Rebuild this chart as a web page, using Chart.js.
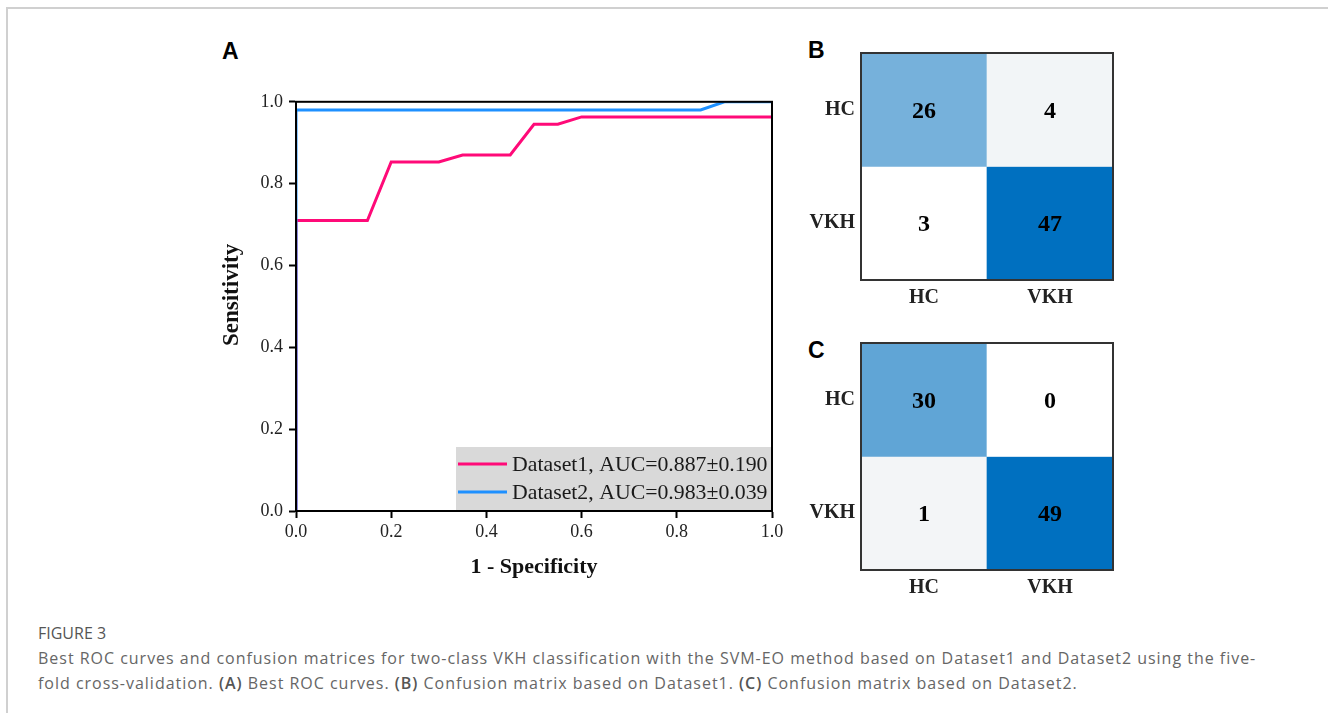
<!DOCTYPE html>
<html lang="en">
<head>
  <meta charset="UTF-8">
  <title>Figure 3</title>
  <script src="https://cdn.jsdelivr.net/npm/chart.js"></script>
  <style>
    body { margin: 0; background: #fff; width: 1328px; height: 713px; position: relative; overflow: hidden; }
    .frame { position: absolute; left: 6px; top: 7px; right: -10px; bottom: -10px; border-top: 2px solid #d0d0d0; border-left: 2px solid #d0d0d0; }
    .panel { position: absolute; font-family: "Liberation Sans", Arial, sans-serif; font-weight: bold; font-size: 23px; color: #000; }
    .box { position: absolute; }
    .caption { position: absolute; left: 38px; top: 621px; font-family: "Open Sans", sans-serif; color: #666; font-size: 16px; letter-spacing: 0.98px; line-height: 25px; white-space: nowrap; }
    .caption .fig { color: #555; letter-spacing: 0; }
    .caption b { font-weight: 600; color: #555; }
  </style>
</head>
<body>
  <div class="frame"></div>
  <div class="panel" style="left:222px; top:38px;">A</div>
  <div class="panel" style="left:808px; top:37px;">B</div>
  <div class="panel" style="left:808px; top:337px;">C</div>

  <div class="box" style="left:200px; top:85px; width:600px; height:505px;"><canvas id="roc"></canvas></div>
  <div class="box" style="left:800px; top:35px; width:330px; height:285px;"><canvas id="cmB"></canvas></div>
  <div class="box" style="left:800px; top:325px; width:330px; height:285px;"><canvas id="cmC"></canvas></div>

  <div class="caption">
    <div class="fig">FIGURE 3</div>
    <div>Best ROC curves and confusion matrices for two-class VKH classification with the SVM-EO method based on Dataset1 and Dataset2 using the five-</div>
    <div>fold cross-validation. <b>(A)</b> Best ROC curves. <b>(B)</b> Confusion matrix based on Dataset1. <b>(C)</b> Confusion matrix based on Dataset2.</div>
  </div>

  <script>
    // ROC curve points (false positive rate, true positive rate)
    const fpr1 = [0, 0, 0.15, 0.2, 0.3, 0.35, 0.45, 0.5, 0.55, 0.6, 1.0];
    const tpr1 = [0, 0.71, 0.71, 0.853, 0.853, 0.87, 0.87, 0.945, 0.945, 0.963, 0.963];
    const fpr2 = [0, 0, 0.85, 0.9, 1.0];
    const tpr2 = [0, 0.98, 0.98, 1.0, 1.0];
    const rocLabels = ["Dataset1, AUC=0.887\u00b10.190", "Dataset2, AUC=0.983\u00b10.039"];
    const axisTicks = [0, 0.2, 0.4, 0.6, 0.8, 1.0];

    // confusion matrices: rows = true class, cols = predicted class
    const classes = ["HC", "VKH"];
    const matrixB = [[26, 4], [3, 47]];
    const matrixC = [[30, 0], [1, 49]];

    const serif = "'Liberation Serif', 'Times New Roman', serif";

    function toPoints(xs, ys) {
      return xs.map((x, i) => ({ x: x, y: ys[i] }));
    }

    // box around plot area + legend in the lower right corner
    const rocDecor = {
      id: 'rocDecor',
      afterDatasetsDraw(chart) {
        const { ctx, chartArea } = chart;
        const w = 316, h = 64;
        const left = chartArea.right - w, top = chartArea.bottom - h;
        ctx.save();
        ctx.fillStyle = '#d9d9d9';
        ctx.fillRect(left, top, w, h);
        ctx.font = '21.8px ' + serif;
        ctx.textBaseline = 'middle';
        chart.data.datasets.forEach((ds, i) => {
          const y = top + 17 + i * 28;
          ctx.strokeStyle = ds.borderColor;
          ctx.lineWidth = 3;
          ctx.beginPath();
          ctx.moveTo(left + 2, y);
          ctx.lineTo(left + 51, y);
          ctx.stroke();
          ctx.fillStyle = '#1a1a1a';
          ctx.fillText(ds.label, left + 56, y + 1);
        });
        ctx.strokeStyle = '#000';
        ctx.lineWidth = 2;
        ctx.strokeRect(chartArea.left, chartArea.top, chartArea.width, chartArea.height);
        ctx.restore();
      }
    };

    new Chart(document.getElementById('roc'), {
      type: 'line',
      data: {
        datasets: [
          { label: rocLabels[0], data: toPoints(fpr1, tpr1), borderColor: '#ff0a78', borderWidth: 3, pointRadius: 0, order: 2 },
          { label: rocLabels[1], data: toPoints(fpr2, tpr2), borderColor: '#1e90ff', borderWidth: 3, pointRadius: 0, order: 1 }
        ]
      },
      options: {
        responsive: true,
        maintainAspectRatio: false,
        animation: false,
        layout: { padding: { top: 0, right: 28, left: 0, bottom: 0 } },
        plugins: { legend: { display: false }, tooltip: { enabled: false } },
        scales: {
          x: {
            type: 'linear', min: 0, max: 1,
            afterFit: s => { s.height = 79; },
            afterBuildTicks: s => { s.ticks = axisTicks.map(v => ({ value: v })); },
            ticks: { callback: v => v.toFixed(1), font: { family: serif, size: 18 }, color: '#222', padding: 3, maxRotation: 0 },
            grid: { drawOnChartArea: false, drawTicks: true, tickLength: 7, tickWidth: 2, tickColor: '#000' },
            border: { display: true, color: '#000', width: 2 },
            title: { display: true, text: '1 - Specificity', font: { family: serif, size: 22, weight: 'bold' }, color: '#111', padding: { top: 0, bottom: 9 } }
          },
          y: {
            type: 'linear', min: 0, max: 1,
            afterFit: s => { s.width = 96; },
            afterBuildTicks: s => { s.ticks = axisTicks.map(v => ({ value: v })); },
            ticks: { callback: v => v.toFixed(1), font: { family: serif, size: 18 }, color: '#222', padding: 6 },
            grid: { drawOnChartArea: false, drawTicks: true, tickLength: 7, tickWidth: 2, tickColor: '#000' },
            border: { display: true, color: '#000', width: 2 },
            // leading en spaces push the title a little above centre, as in the original
            title: { display: true, text: '\u2002\u2002Sensitivity', font: { family: serif, size: 23, weight: 'bold' }, color: '#111', padding: { top: 18, bottom: 0 } }
          }
        }
      },
      plugins: [rocDecor]
    });

    // lowest count is white, the rest runs from #f8f8f8 to #0070C0
    function cellColor(v, lo, hi) {
      if (v === lo) return '#ffffff';
      const t = (v - lo) / (hi - lo);
      const r = Math.round(248 + t * (0 - 248));
      const g = Math.round(248 + t * (112 - 248));
      const b = Math.round(248 + t * (192 - 248));
      return `rgb(${r},${g},${b})`;
    }

    const matrixDecor = {
      id: 'matrixDecor',
      afterDatasetsDraw(chart) {
        const { ctx, chartArea } = chart;
        ctx.save();
        ctx.font = 'bold 24px ' + serif;
        ctx.fillStyle = '#000';
        ctx.textAlign = 'center';
        ctx.textBaseline = 'middle';
        chart.data.datasets.forEach((ds, di) => {
          const meta = chart.getDatasetMeta(di);
          meta.data.forEach((bar, i) => {
            const c = bar.getCenterPoint();
            ctx.fillText(String(ds.counts[i]), c.x, c.y + 2);
          });
        });
        ctx.strokeStyle = '#333';
        ctx.lineWidth = 2;
        ctx.strokeRect(chartArea.left, chartArea.top, chartArea.width, chartArea.height);
        ctx.restore();
      }
    };

    function drawMatrix(id, m) {
      const flat = m.flat();
      const lo = Math.min(...flat), hi = Math.max(...flat);
      const n = m.length;
      // one floating bar per cell; row 0 (HC) on top
      const datasets = m.map((row, r) => ({
        data: row.map(() => [n - r - 1, n - r]),
        counts: row,
        backgroundColor: row.map(v => cellColor(v, lo, hi)),
        borderWidth: 0,
        barPercentage: 1,
        categoryPercentage: 1,
        grouped: false
      }));
      new Chart(document.getElementById(id), {
        type: 'bar',
        data: { labels: classes, datasets: datasets },
        options: {
          responsive: true,
          maintainAspectRatio: false,
          animation: false,
          layout: { padding: { top: 0, right: 17, left: 0, bottom: 0 } },
          plugins: { legend: { display: false }, tooltip: { enabled: false } },
          scales: {
            x: {
              afterFit: s => { s.height = 40; },
              ticks: { font: { family: serif, size: 20, weight: 'bold' }, color: '#222', padding: 6 },
              grid: { display: false, drawTicks: false },
              border: { display: false }
            },
            y: {
              min: 0, max: n,
              afterFit: s => { s.width = 61; },
              afterBuildTicks: s => { s.ticks = classes.map((c, i) => ({ value: n - i - 0.5 })); },
              ticks: { callback: v => classes[n - 0.5 - v], font: { family: serif, size: 20, weight: 'bold' }, color: '#222', padding: 6 },
              grid: { display: false, drawTicks: false },
              border: { display: false }
            }
          }
        },
        plugins: [matrixDecor]
      });
    }

    drawMatrix('cmB', matrixB);
    drawMatrix('cmC', matrixC);
  </script>
</body>
</html>
